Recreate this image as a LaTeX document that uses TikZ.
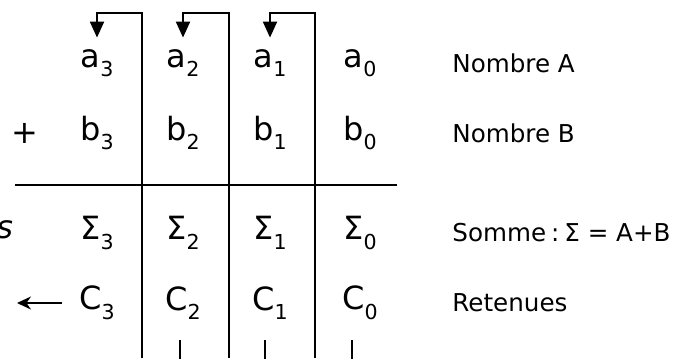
\documentclass[tikz,border=0pt]{standalone}
\usepackage{fontspec}
\setmainfont{DejaVu Sans}
\usepackage{tikz}
\usetikzlibrary{arrows.meta, positioning, calc}

\newcommand{\lowsub}[1]{\raisebox{-0.55ex}{\fontsize{10.3}{11}\selectfont #1}}

\begin{document}
\begin{tikzpicture}[
  x=0.5pt, y=-0.5pt,
  cell/.style={inner sep=0pt, minimum width=35pt, minimum height=25pt, font=\fontsize{16}{18}\selectfont},
  lbl/.style={anchor=west, inner sep=0pt, font=\fontsize{12.3}{14}\selectfont},
  rule/.style={line width=1pt},
  carry/.style={line width=1pt, -{Triangle[length=8pt, width=7pt]}},
  arr/.style={line width=1pt, -{Stealth[length=7pt, width=6.5pt]}}
]
  \useasboundingbox (0,0) rectangle (678,358);

  % digits of A
  \node[cell] (a3) at (97, 63) {a\lowsub{3}};
  \node[cell] (a2) at (183, 63) {a\lowsub{2}};
  \node[cell] (a1) at (270, 63) {a\lowsub{1}};
  \node[cell] (a0) at (360, 63) {a\lowsub{0}};

  % digits of B
  \node[cell] (plus) at (25, 133) {+};
  \node[cell] (b3) at (97, 133) {b\lowsub{3}};
  \node[cell] (b2) at (183, 133) {b\lowsub{2}};
  \node[cell] (b1) at (270, 133) {b\lowsub{1}};
  \node[cell] (b0) at (360, 133) {b\lowsub{0}};

  % sum
  \node[cell] (s3) at (97, 233) {Σ\lowsub{3}};
  \node[cell] (s2) at (183, 233) {Σ\lowsub{2}};
  \node[cell] (s1) at (270, 233) {Σ\lowsub{1}};
  \node[cell] (s0) at (360, 233) {Σ\lowsub{0}};

  % carries
  \node[cell] (c3) at (97, 303) {C\lowsub{3}};
  \node[cell] (c2) at (183, 303) {C\lowsub{2}};
  \node[cell] (c1) at (270, 303) {C\lowsub{1}};
  \node[cell] (c0) at (360, 303) {C\lowsub{0}};

  \node[inner sep=0pt, anchor=west, font=\fontsize{16}{18}\selectfont\itshape] (cut) at (-4, 230) {s};

  % row labels
  \node[lbl] (la) at (452, 63) {Nombre A};
  \node[lbl] (lb) at (452, 133) {Nombre B};
  \node[lbl] (ls) at (452, 233) {Somme\hspace{2.5pt}:\hspace{2.5pt}Σ = A+B};
  \node[lbl] (lc) at (452, 303) {Retenues};

  % separation line
  \coordinate (hl) at (15, 185);
  \coordinate (hr) at (397, 185);
  \draw[rule] (hl) -- (hr);

  % carry paths
  \coordinate (v3b) at (142, 358);
  \coordinate (v3t) at (142, 13);
  \coordinate (v2b) at (229, 358);
  \coordinate (v2t) at (229, 13);
  \coordinate (v1b) at (315, 358);
  \coordinate (v1t) at (315, 13);
  \draw[carry] (v3b) -- (v3t) -| (a3);
  \draw[carry] (v2b) -- (v2t) -| (a2);
  \draw[carry] (v1b) -- (v1t) -| (a1);

  % outgoing carry
  \coordinate (cout) at (17, 303);
  \draw[arr] (c3.west) -- (cout);

  % short ticks below
  \coordinate (t2) at (180, 340);
  \coordinate (t1) at (265, 340);
  \coordinate (t0) at (352, 340);
  \draw[rule] (t2) -- ++(0, 20);
  \draw[rule] (t1) -- ++(0, 20);
  \draw[rule] (t0) -- ++(0, 20);
\end{tikzpicture}
\end{document}
